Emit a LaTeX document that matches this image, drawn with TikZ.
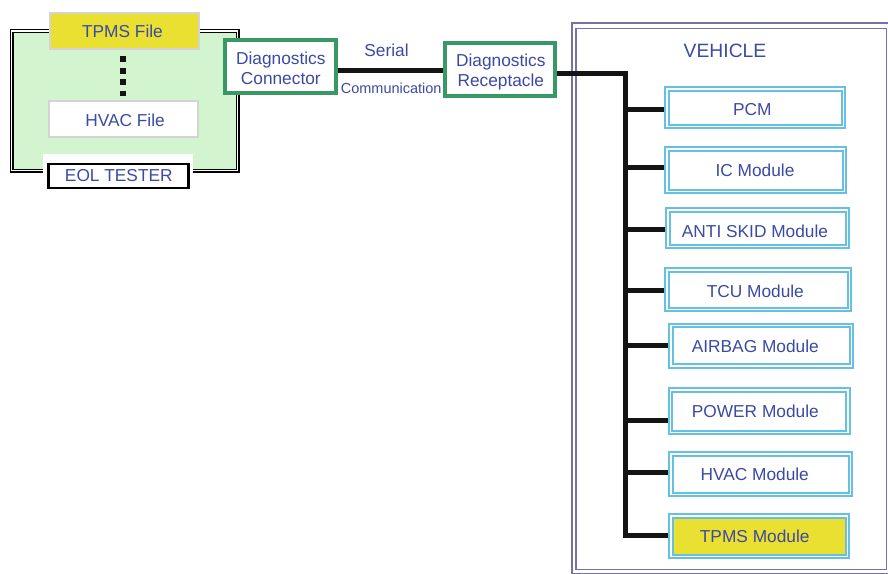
\documentclass[tikz,border=0pt]{standalone}
\usepackage{fontspec}
\setmainfont{Liberation Sans}
\definecolor{txtblue}{RGB}{59,74,163}
\definecolor{eolgreen}{RGB}{210,245,207}
\definecolor{filegray}{RGB}{212,212,212}
\definecolor{fileyellow}{RGB}{234,224,50}
\definecolor{diaggreen}{RGB}{56,152,102}
\definecolor{modblue}{RGB}{102,192,226}
\definecolor{vehpurple}{RGB}{115,115,165}
\pgfdeclarelayer{frame}
\pgfdeclarelayer{wires}
\pgfsetlayers{frame,wires,main}
\begin{document}
\begin{tikzpicture}[x=1pt,y=-1pt,
  lbl/.style={text=txtblue, inner sep=0pt, text depth=0pt, font=\fontsize{17.3}{20}\selectfont},
  smalllbl/.style={lbl, font=\fontsize{14.5}{17}\selectfont},
  biglbl/.style={lbl, font=\fontsize{19.3}{22}\selectfont},
  eolbox/.style={draw=black, double=white, line width=1.2pt, double distance=1.6pt, fill=eolgreen, inner sep=0pt},
  filebox/.style={draw=filegray, line width=2pt, inner sep=0pt, minimum width=149pt, minimum height=36pt},
  tagbox/.style={draw=black, line width=2.5pt, fill=white, inner sep=0pt},
  diagbox/.style={draw=diaggreen, line width=4pt, fill=white, inner sep=0pt},
  modbox/.style={draw=modblue, double=white, line width=2pt, double distance=1.5pt, fill=white, inner sep=0pt},
  frameline/.style={draw=vehpurple, line width=1.5pt},
  bus/.style={draw=black!92, line width=5pt},
  dotline/.style={draw=black!92, line width=5.7pt, dash pattern=on 6pt off 5.5pt}
]
\useasboundingbox (0,0) rectangle (888,573);

% ---------------- EOL tester ----------------
\node[eolbox, minimum width=226pt, minimum height=139.5pt] (eol) at (124.5,100.75) {};
\node[filebox, fill=fileyellow] (tfile) at (124.5,31) {};
\node[filebox, fill=white] (hfile) at (123.5,119) {};
\node[lbl] (tfiletxt) at (122.5,30.8) {TPMS File};
\node[lbl] (hfiletxt) at (125,120) {HVAC File};
\draw[dotline] ([xshift=-1.6pt,yshift=-6pt]tfile.south) -- ([xshift=-0.6pt,yshift=4.5pt]hfile.north);
\fill[white] (43.3,154) rectangle (192.7,192);
\node[tagbox, minimum width=140pt, minimum height=24pt] (eoltag) at (118.3,176) {};
\node[lbl] (eoltxt) at (118.8,175.8) {EOL TESTER};

% ---------------- vehicle frame ----------------
\begin{pgfonlayer}{frame}
\node[frameline, inner sep=0pt, minimum width=310.7pt, minimum height=541pt] (veh) at (731.35,298.8) {};
\draw[frameline] ([shift={(-3.3pt,4.8pt)}]veh.north west) rectangle ([shift={(4.3pt,-3.4pt)}]veh.south east);
\end{pgfonlayer}
\node[biglbl] (vehtxt) at (725,51.2) {VEHICLE};

% ---------------- diagnostics link ----------------
\node[diagbox, minimum width=111pt, minimum height=53pt] (con) at (280.5,66.5) {};
\node[diagbox, minimum width=110pt, minimum height=53pt] (rec) at (500,69.5) {};
\node[lbl, align=center] (contxt) at (280.8,68.5) {Diagnostics\\Connector};
\node[lbl, align=center] (rectxt) at (500.8,70.2) {Diagnostics\\Receptacle};
\node[lbl] (serial) at (386.5,50) {Serial};
\node[smalllbl] (comm) at (391.2,88.7) {Communication};

% ---------------- modules ----------------
\node[modbox, minimum width=176.5pt, minimum height=37.5pt] (pcm) at (755,107.5) {};
\node[modbox, minimum width=177.5pt, minimum height=42.5pt] (ic) at (755.8,170) {};
\node[modbox, minimum width=179.5pt, minimum height=36.5pt] (abs) at (757.5,228) {};
\node[modbox, minimum width=182.5pt, minimum height=39.5pt] (tcu) at (758,289.5) {};
\node[modbox, minimum width=180.5pt, minimum height=40.5pt] (airbag) at (761,345.5) {};
\node[modbox, minimum width=177.5pt, minimum height=42.5pt] (power) at (759.2,411.2) {};
\node[modbox, minimum width=179.5pt, minimum height=40.5pt] (hvac) at (760.5,474) {};
\node[modbox, fill=fileyellow, minimum width=176.5pt, minimum height=40.5pt] (tpms) at (759,536) {};

\node[lbl] at (752.3,109.7) {PCM};
\node[lbl] at (755,170) {IC Module};
\node[lbl] at (755,230.8) {ANTI SKID Module};
\node[lbl] at (755.3,290.8) {TCU Module};
\node[lbl] at (755.3,345.8) {AIRBAG Module};
\node[lbl] at (755.3,411.7) {POWER Module};
\node[lbl] at (754.7,474.7) {HVAC Module};
\node[lbl] at (754.7,536.7) {TPMS Module};

% ---------------- wiring ----------------
\coordinate (corner) at (625.5,73);
\coordinate (bpcm) at (625.5,109);
\coordinate (bic) at (625.5,167.5);
\coordinate (babs) at (625.5,229);
\coordinate (btcu) at (625.5,290);
\coordinate (bairbag) at (625.5,345);
\coordinate (bpower) at (625.5,420);
\coordinate (bhvac) at (625.5,472);
\coordinate (btpms) at (625.5,537.5);
\begin{pgfonlayer}{wires}
\draw[bus] (con.east |- 0,70) -- (rec.west |- 0,70);
\draw[bus] (rec.east |- corner) -- (corner) -- (btpms);
\draw[bus] (bpcm) -- (bpcm -| pcm.west);
\draw[bus] (bic) -- (bic -| ic.west);
\draw[bus] (babs) -- (babs -| abs.west);
\draw[bus] (btcu) -- (btcu -| tcu.west);
\draw[bus] (bairbag) -- (bairbag -| airbag.west);
\draw[bus] (bpower) -- (bpower -| power.west);
\draw[bus] (bhvac) -- (bhvac -| hvac.west);
\draw[bus] ([yshift=2.5pt]btpms) -- ([yshift=2.5pt]btpms -| tpms.west);
\end{pgfonlayer}
\end{tikzpicture}
\end{document}
